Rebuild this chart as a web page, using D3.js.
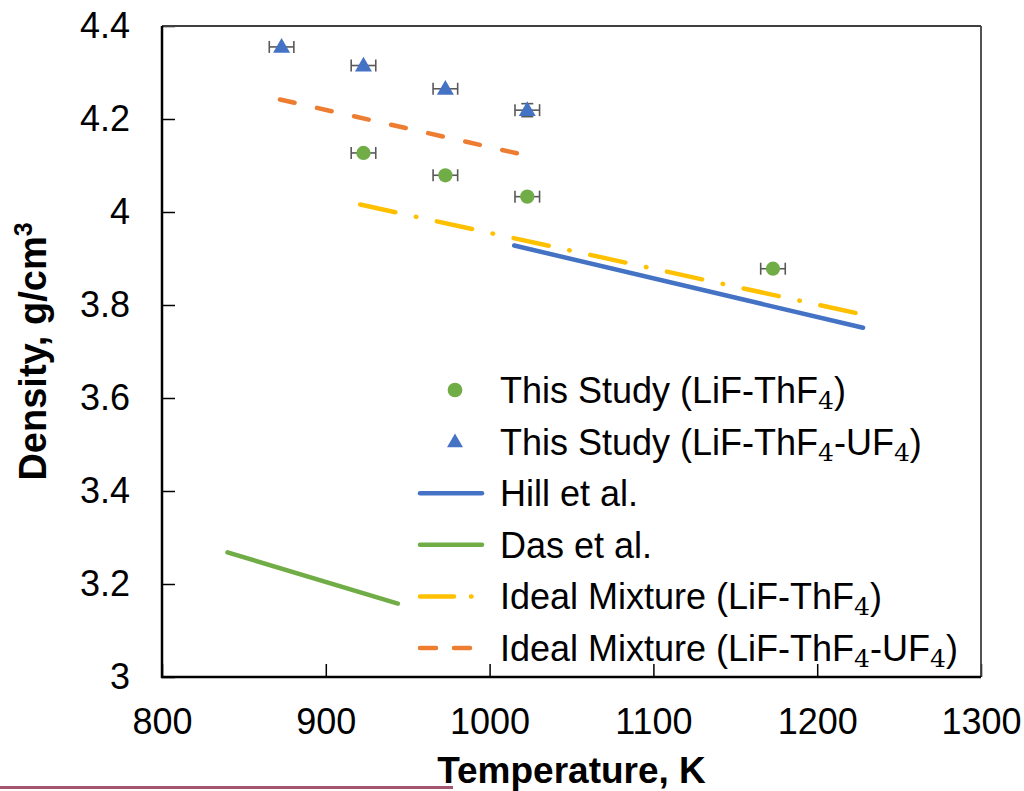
<!doctype html>
<meta charset='utf-8'>
<body style='margin:0;background:#fff'>
<script src='https://cdn.jsdelivr.net/npm/d3@7/dist/d3.min.js'></script>
<script>

// measured points, this study
var tempLiF   = [923, 973, 1023, 1173],
    rhoLiF    = [4.127, 4.079, 4.033, 3.878],
    yerrLiF   = [0, 0, 0, 0];
var tempLiFU  = [873, 923, 973, 1023],
    rhoLiFU   = [4.355, 4.315, 4.265, 4.219],
    yerrLiFU  = [0, 0, 0, 0.014];
var xerrTemp  = 7.5;

// literature / model lines (end points)
var hillT  = [1015, 1228], hillRho  = [3.928, 3.751];
var dasT   = [840, 944],   dasRho   = [3.268, 3.158];
var idealT = [921, 1226],  idealRho = [4.016, 3.781];
var idealUT = [872, 1017], idealURho = [4.242, 4.126];

var xTicks = [800, 900, 1000, 1100, 1200, 1300];
var yTicks = [3, 3.2, 3.4, 3.6, 3.8, 4, 4.2, 4.4];

var legendNames = ['This Study (LiF-ThF|4|)', 'This Study (LiF-ThF|4|-UF|4|)', 'Hill et al.',
                   'Das et al.', 'Ideal Mixture (LiF-ThF|4|)', 'Ideal Mixture (LiF-ThF|4|-UF|4|)'];

var blue = '#4472C4', green = '#70AD47', yellow = '#FFC000', orange = '#ED7D31';
var font = "'Liberation Sans', Arial, sans-serif";

var width = 1024, height = 791;
var margin = {top: 26, right: 43, bottom: 114, left: 162};

var svg = d3.select('body').append('svg')
    .attr('width', width)
    .attr('height', height)
    .style('font-family', font);

var x = d3.scaleLinear().domain([800, 1300]).range([margin.left, width - margin.right]);
var y = d3.scaleLinear().domain([3, 4.4]).range([height - margin.bottom, margin.top]);

// axes, inward ticks
var gx = svg.append('g')
    .attr('transform', 'translate(0,' + y(3) + ')')
    .call(d3.axisBottom(x).tickValues(xTicks).tickFormat(d3.format('d')).tickSize(-13).tickSizeOuter(0).tickPadding(31));
var gy = svg.append('g')
    .attr('transform', 'translate(' + x(800) + ',0)')
    .call(d3.axisLeft(y).tickValues(yTicks).tickFormat(function(d) { return d3.format('.1f')(d).replace('.0', ''); }).tickSize(-13).tickSizeOuter(0).tickPadding(32));

[gx, gy].forEach(function(g) {
  g.select('.domain').remove();
  g.selectAll('.tick line').attr('stroke', '#000').attr('stroke-width', 1.5);
  g.selectAll('.tick text').attr('fill', '#000').style('font-size', '36px').style('font-family', font);
});

// frame
svg.append('line').attr('x1', x(800)).attr('x2', x(1300)).attr('y1', y(4.4)).attr('y2', y(4.4))
    .attr('stroke', '#404040').attr('stroke-width', 1.8);
svg.append('line').attr('x1', x(1300)).attr('x2', x(1300)).attr('y1', y(4.4)).attr('y2', y(3))
    .attr('stroke', '#404040').attr('stroke-width', 1.8);
svg.append('line').attr('x1', x(800)).attr('x2', x(800)).attr('y1', y(4.4)).attr('y2', y(3) + 1)
    .attr('stroke', '#000').attr('stroke-width', 2.5);
svg.append('line').attr('x1', x(800) - 1).attr('x2', x(1300)).attr('y1', y(3)).attr('y2', y(3))
    .attr('stroke', '#000').attr('stroke-width', 2.5);

// lines
var line = d3.line().x(function(d) { return x(d[0]); }).y(function(d) { return y(d[1]); });
function zipPts(a, b) { return a.map(function(v, i) { return [v, b[i]]; }); }

var lineSeries = [
  {pts: zipPts(hillT, hillRho), color: blue, dash: null},
  {pts: zipPts(dasT, dasRho), color: green, dash: null},
  {pts: zipPts(idealT, idealRho), color: yellow, dash: '36 21 0.5 21'},
  {pts: zipPts(idealUT, idealURho), color: orange, dash: '15 23'}
];

svg.append('g').selectAll('path')
  .data(lineSeries)
  .enter().append('path')
    .attr('d', function(d) { return line(d.pts); })
    .attr('fill', 'none')
    .attr('stroke', function(d) { return d.color; })
    .attr('stroke-width', 4.5)
    .attr('stroke-linecap', 'round')
    .attr('stroke-dasharray', function(d) { return d.dash; });

// error bars
var pts = [];
tempLiF.forEach(function(t, i) { pts.push({t: t, r: rhoLiF[i], ey: yerrLiF[i], kind: 'c'}); });
tempLiFU.forEach(function(t, i) { pts.push({t: t, r: rhoLiFU[i], ey: yerrLiFU[i], kind: 't'}); });

var eb = svg.append('g').attr('stroke', '#595959').attr('stroke-width', 1.6).attr('fill', 'none');
pts.forEach(function(d) {
  var cy = y(d.r), x0 = x(d.t - xerrTemp), x1 = x(d.t + xerrTemp);
  eb.append('line').attr('x1', x0).attr('x2', x1).attr('y1', cy).attr('y2', cy);
  eb.append('line').attr('x1', x0).attr('x2', x0).attr('y1', cy - 6).attr('y2', cy + 6);
  eb.append('line').attr('x1', x1).attr('x2', x1).attr('y1', cy - 6).attr('y2', cy + 6);
  if (d.ey > 0) {
    var cx = x(d.t), ya = y(d.r + d.ey), yb = y(d.r - d.ey);
    eb.append('line').attr('x1', cx).attr('x2', cx).attr('y1', ya).attr('y2', yb);
    eb.append('line').attr('x1', cx - 6).attr('x2', cx + 6).attr('y1', ya).attr('y2', ya);
    eb.append('line').attr('x1', cx - 6).attr('x2', cx + 6).attr('y1', yb).attr('y2', yb);
  }
});

// markers
var tri = d3.symbol().type(d3.symbolTriangle).size(125);
svg.append('g').selectAll('path')
  .data(pts)
  .enter().append('path')
    .attr('transform', function(d) { return 'translate(' + x(d.t) + ',' + (y(d.r) + (d.kind === 't' ? 1 : 0)) + ')'; })
    .attr('d', function(d) { return d.kind === 't' ? tri() : d3.symbol().type(d3.symbolCircle).size(160)(); })
    .attr('fill', function(d) { return d.kind === 't' ? blue : green; });

// legend
var leg = svg.append('g');
var rowY = 390, rowH = 51.6;
legendNames.forEach(function(name, i) {
  var cy = rowY + i * rowH;
  if (i === 0) {
    leg.append('path').attr('transform', 'translate(455,' + cy + ')')
      .attr('d', d3.symbol().type(d3.symbolCircle).size(170)()).attr('fill', green);
  } else if (i === 1) {
    leg.append('path').attr('transform', 'translate(455,' + (cy + 1) + ')')
      .attr('d', d3.symbol().type(d3.symbolTriangle).size(110)()).attr('fill', blue);
  } else {
    var s = lineSeries[i - 2];
    leg.append('line').attr('x1', 420).attr('x2', 482).attr('y1', cy).attr('y2', cy)
      .attr('stroke', s.color).attr('stroke-width', 4.5).attr('stroke-linecap', 'round')
      .attr('stroke-dasharray', i === 4 ? '34 17 0.5 30' : (i === 5 ? '16 18' : null));
  }
  var t = leg.append('text').attr('x', 500).attr('y', cy + 13)
    .style('font-size', '36px').attr('fill', '#000');
  name.split('|').forEach(function(part, k) {
    if (k % 2 === 1) {
      t.append('tspan').text(part).attr('dy', 6)
        .style('font-family', "'DejaVu Serif', 'Liberation Serif', serif").style('font-size', '25px');
    } else if (k > 0) {
      t.append('tspan').text(part).attr('dy', -6);
    } else {
      t.append('tspan').text(part);
    }
  });
});

// axis titles
svg.append('text')
    .attr('x', (x(800) + x(1300)) / 2).attr('y', 783)
    .attr('text-anchor', 'middle')
    .style('font-size', '37px').style('font-weight', 'bold')
    .text('Temperature, K');

var yt = svg.append('text')
    .attr('transform', 'translate(46,' + ((y(3) + y(4.4)) / 2) + ') rotate(-90)')
    .attr('text-anchor', 'middle')
    .style('font-size', '38px').style('font-weight', 'bold');
yt.append('tspan').text('Density, g/cm');
yt.append('tspan').text('3').attr('dy', -14).style('font-size', '25px');

// stray underline at page bottom
svg.append('rect').attr('x', 0).attr('y', 786).attr('width', 453).attr('height', 3).attr('fill', '#a4566e');

</script>
